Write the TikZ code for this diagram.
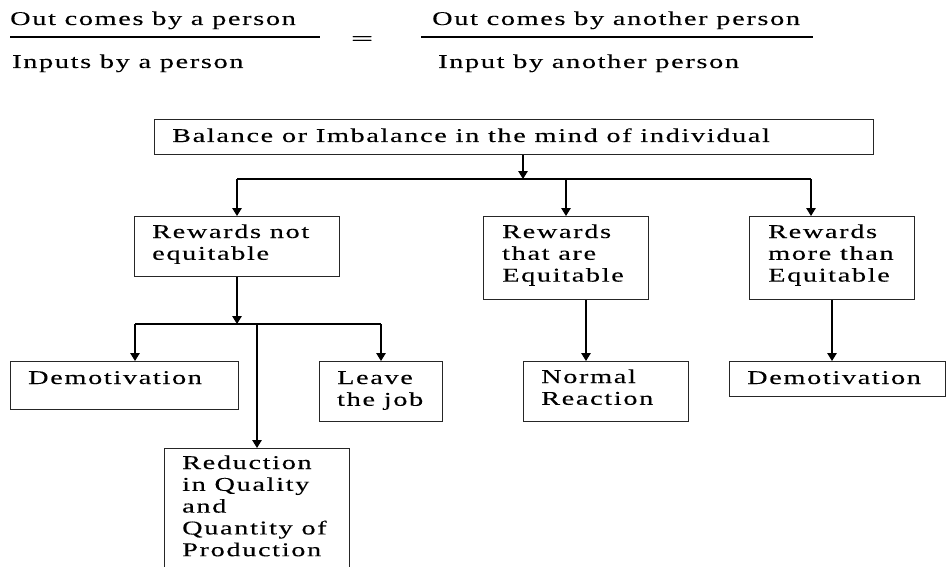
\documentclass[tikz,border=0pt]{standalone}
\usepackage{fontspec}
\setmainfont{Liberation Serif}[FakeStretch=1.45,LetterSpace=8.5,FakeBold=0.2]
\usetikzlibrary{arrows.meta}
\newcommand\dfont{\fontsize{19.5pt}{21.8pt}\selectfont}
\newcommand\mline[1]{\parbox[t]{6cm}{\raggedright #1}}
\begin{document}
\begin{tikzpicture}[x=1pt,y=-1pt,
  box/.style={draw=black!85, line width=1.3pt, inner sep=0pt, anchor=north west},
  txt/.style={anchor=base west, inner sep=0pt, font=\dfont},
  arr/.style={line width=1.3pt, -{Triangle[width=9.5pt,length=8pt]}},
  ln/.style={line width=1.3pt}]
\useasboundingbox (0,0) rectangle (947,567);

% equation at top
\node[txt] (f1) at (10,25) {Out comes by a person};
\node[txt] (f2) at (12,68) {Inputs by a person};
\node[txt] (f3) at (432,25) {Out comes by another person};
\node[txt] (f4) at (438,68) {Input by another person};
\node[font=\dfont, inner sep=0pt, xscale=1.4] (eq) at (362,40.5) {=};
\coordinate (fa) at (10,37); \coordinate (fb) at (320,37);
\coordinate (fc) at (421,37); \coordinate (fd) at (813,37);
\draw[ln] (fa) -- (fb);
\draw[ln] (fc) -- (fd);

% boxes
\node[box, minimum width=719pt, minimum height=35pt] (b0) at (154,119) {};
\node[txt] (t0) at (172,142) {Balance or Imbalance in the mind of individual};

\node[box, minimum width=205pt, minimum height=60pt] (b1) at (134,216) {};
\node[txt] (t1) at (152,238) {\mline{Rewards not\\equitable}};

\node[box, minimum width=165pt, minimum height=83pt] (b2) at (483,216) {};
\node[txt] (t2) at (502,238) {\mline{Rewards\\that are\\Equitable}};

\node[box, minimum width=165pt, minimum height=83pt] (b3) at (749,216) {};
\node[txt] (t3) at (768,238) {\mline{Rewards\\more than\\Equitable}};

\node[box, minimum width=228pt, minimum height=48pt] (b4) at (10,361) {};
\node[txt] (t4) at (28,384) {Demotivation};

\node[box, minimum width=185pt, minimum height=140pt] (b5) at (164,448) {};
\node[txt] (t5) at (182,469) {\mline{Reduction\\in Quality\\and\\Quantity of\\Production}};

\node[box, minimum width=123pt, minimum height=60pt] (b6) at (319,361) {};
\node[txt] (t6) at (337,384) {\mline{Leave\\the job}};

\node[box, minimum width=165pt, minimum height=60pt] (b7) at (523,361) {};
\node[txt] (t7) at (541,383) {\mline{Normal\\Reaction}};

\node[box, minimum width=216pt, minimum height=35pt] (b8) at (729,361) {};
\node[txt] (t8) at (747,384) {Demotivation};

% connectors
\coordinate (j0) at (523,179);
\coordinate (jl) at (237,179);
\coordinate (jm) at (566,179);
\coordinate (jr) at (811,179);
\draw[arr] (b0.south -| j0) -- (j0);
\draw[ln] (jl) -- (jr);
\draw[arr] (jl) -- (b1.north -| jl);
\draw[arr] (jm) -- (b2.north -| jm);
\draw[arr] (jr) -- (b3.north -| jr);

\coordinate (k0) at (237,324);
\coordinate (kl) at (135,324);
\coordinate (km) at (257,324);
\coordinate (kr) at (381,324);
\draw[arr] (b1.south -| k0) -- (k0);
\draw[ln] (kl) -- (kr);
\draw[arr] (kl) -- (b4.north -| kl);
\draw[arr] (kr) -- (b6.north -| kr);
\draw[arr] (km) -- (b5.north -| km);

\coordinate (m2) at (586,299);
\draw[arr] (b2.south -| m2) -- (b7.north -| m2);
\coordinate (m3) at (832,299);
\draw[arr] (b3.south -| m3) -- (b8.north -| m3);
\end{tikzpicture}
\end{document}
